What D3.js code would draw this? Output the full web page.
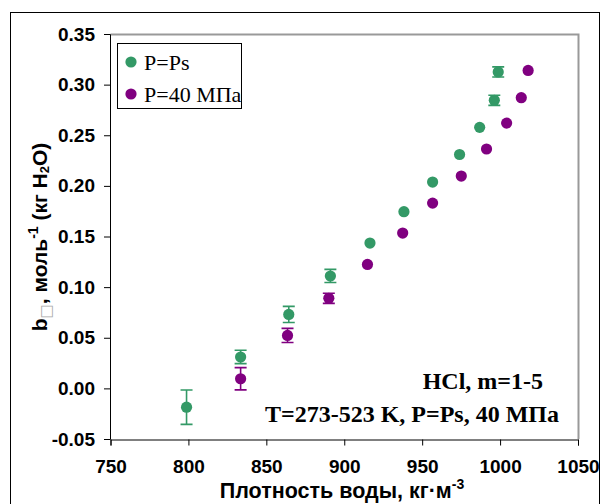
<!DOCTYPE html>
<html>
<head>
<meta charset="utf-8">
<script src="https://cdn.jsdelivr.net/npm/d3@7"></script>
<style>
  body { margin: 0; background: #fff; }
  svg { display: block; }
  .tick text { font-family: "Liberation Sans", Arial, sans-serif; font-weight: bold; font-size: 19px; fill: #000; }
</style>
</head>
<body>
<div id="chart"></div>
<script>
// density of water, kg/m3 and b-values, P=Ps series
let psX = [798.8, 833.5, 864.4, 891.1, 916.5, 938.3, 956.7, 974.0, 986.9, 996.3, 998.8];
let psY = [-0.0186, 0.031, 0.073, 0.111, 0.1435, 0.1745, 0.2038, 0.231, 0.2578, 0.2845, 0.3125];
let psErr = [0.017, 0.0066, 0.008, 0.0065, 0, 0, 0, 0, 0, 0.005, 0.005];

// P=40 MPa series
let p40X = [833.5, 863.6, 890.1, 914.9, 937.5, 956.7, 975.1, 991.3, 1004.2, 1013.6, 1018.0];
let p40Y = [0.0095, 0.0523, 0.089, 0.1224, 0.1534, 0.183, 0.2097, 0.2364, 0.262, 0.2871, 0.314];
let p40Err = [0.011, 0.007, 0.005, 0, 0, 0, 0, 0, 0, 0, 0];

let xTicks = [750, 800, 850, 900, 950, 1000, 1050];
let yTicks = [-0.05, 0, 0.05, 0.10, 0.15, 0.20, 0.25, 0.30, 0.35];

let seriesNames = ['P=Ps', 'P=40 МПа'];
let seriesColors = ['#339966', '#800080'];

var width = 602,
    height = 504;

var x = d3.scaleLinear().domain([750, 1050]).range([110.5, 578]);
var y = d3.scaleLinear().domain([-0.05, 0.35]).range([439, 34]);

var svg = d3.select('#chart')
    .append('svg')
    .attr('width', width)
    .attr('height', height);

// outer frame
svg.append('rect')
    .attr('x', 10.5).attr('y', 12.5)
    .attr('width', 589).attr('height', 500)
    .attr('fill', 'none')
    .attr('stroke', '#000');

// top and right plot border
svg.append('path')
    .attr('d', `M${x(750)},${y(0.35) + 0.5}H${x(1050) + 0.5}V${y(-0.05)}`)
    .attr('fill', 'none')
    .attr('stroke', '#999')
    .attr('stroke-width', 2);

var xAxis = svg.append('g')
    .attr('transform', `translate(0,${y(-0.05) + 0.5})`)
    .call(d3.axisBottom(x).tickValues(xTicks).tickSize(6).tickPadding(9).tickFormat(d => d));
var yAxis = svg.append('g')
    .attr('transform', `translate(${x(750) - 0.5},0)`)
    .call(d3.axisLeft(y).tickValues(yTicks).tickSize(6).tickPadding(9).tickFormat(d => d.toFixed(2)));

svg.selectAll('.domain, .tick line').attr('stroke', '#000');
xAxis.selectAll('.tick text').attr('dy', '0.95em');

// axis titles
svg.append('text')
    .attr('x', 342).attr('y', 498)
    .attr('text-anchor', 'middle')
    .style('font-family', '"Liberation Sans", Arial, sans-serif')
    .style('font-weight', 'bold')
    .style('font-size', '21.5px')
    .html('Плотность воды, кг·м<tspan dy="-9" font-size="14">-3</tspan>');

svg.append('text')
    .attr('transform', 'translate(47,237) rotate(-90)')
    .attr('text-anchor', 'middle')
    .style('font-family', '"Liberation Sans", Arial, sans-serif')
    .style('font-weight', 'bold')
    .style('font-size', '21px')
    .html('b<tspan dy="4" font-family="DejaVu Sans" font-size="15" font-weight="normal" fill="#aaa">□</tspan><tspan dy="-4">, моль</tspan><tspan dy="-9" font-size="14">-1</tspan><tspan dy="9"> (кг H</tspan><tspan dy="2" font-size="13">2</tspan><tspan dy="-2">O)</tspan>');

function drawSeries(xs, ys, errs, color) {
    var g = svg.append('g');
    xs.forEach(function(xv, i) {
        if (errs[i] > 0) {
            var cx = x(xv), y1 = y(ys[i] - errs[i]), y2 = y(ys[i] + errs[i]);
            g.append('path')
                .attr('d', `M${cx},${y1}V${y2}M${cx - 6},${y1}H${cx + 6}M${cx - 6},${y2}H${cx + 6}`)
                .attr('fill', 'none')
                .attr('stroke', color)
                .attr('stroke-width', 1.6);
        }
    });
    g.selectAll('circle')
        .data(xs)
        .enter()
        .append('circle')
        .attr('cx', d => x(d))
        .attr('cy', (d, i) => y(ys[i]))
        .attr('r', 5.6)
        .attr('fill', color);
}

drawSeries(psX, psY, psErr, seriesColors[0]);
drawSeries(p40X, p40Y, p40Err, seriesColors[1]);

// legend
var legend = svg.append('g');
legend.append('rect')
    .attr('x', 117.5).attr('y', 43.5)
    .attr('width', 124).attr('height', 65)
    .attr('fill', '#fff')
    .attr('stroke', '#000');
seriesNames.forEach(function(name, i) {
    legend.append('circle')
        .attr('cx', 131).attr('cy', 62 + i * 32)
        .attr('r', 5.6)
        .attr('fill', seriesColors[i]);
    legend.append('text')
        .attr('x', 144).attr('y', 70 + i * 32)
        .style('font-family', '"Liberation Serif", "Times New Roman", serif')
        .style('font-size', '22px')
        .text(name);
});

// annotation
var note = ['HCl, m=1-5', 'T=273-523 K, P=Ps, 40 МПа'];
svg.selectAll('.note')
    .data(note)
    .enter()
    .append('text')
    .attr('class', 'note')
    .attr('x', (d, i) => i === 0 ? 543 : 559)
    .attr('y', (d, i) => i === 0 ? 389 : 422)
    .attr('text-anchor', 'end')
    .style('font-family', '"Liberation Serif", "Times New Roman", serif')
    .style('font-weight', 'bold')
    .style('font-size', '24px')
    .text(d => d);
</script>
</body>
</html>
